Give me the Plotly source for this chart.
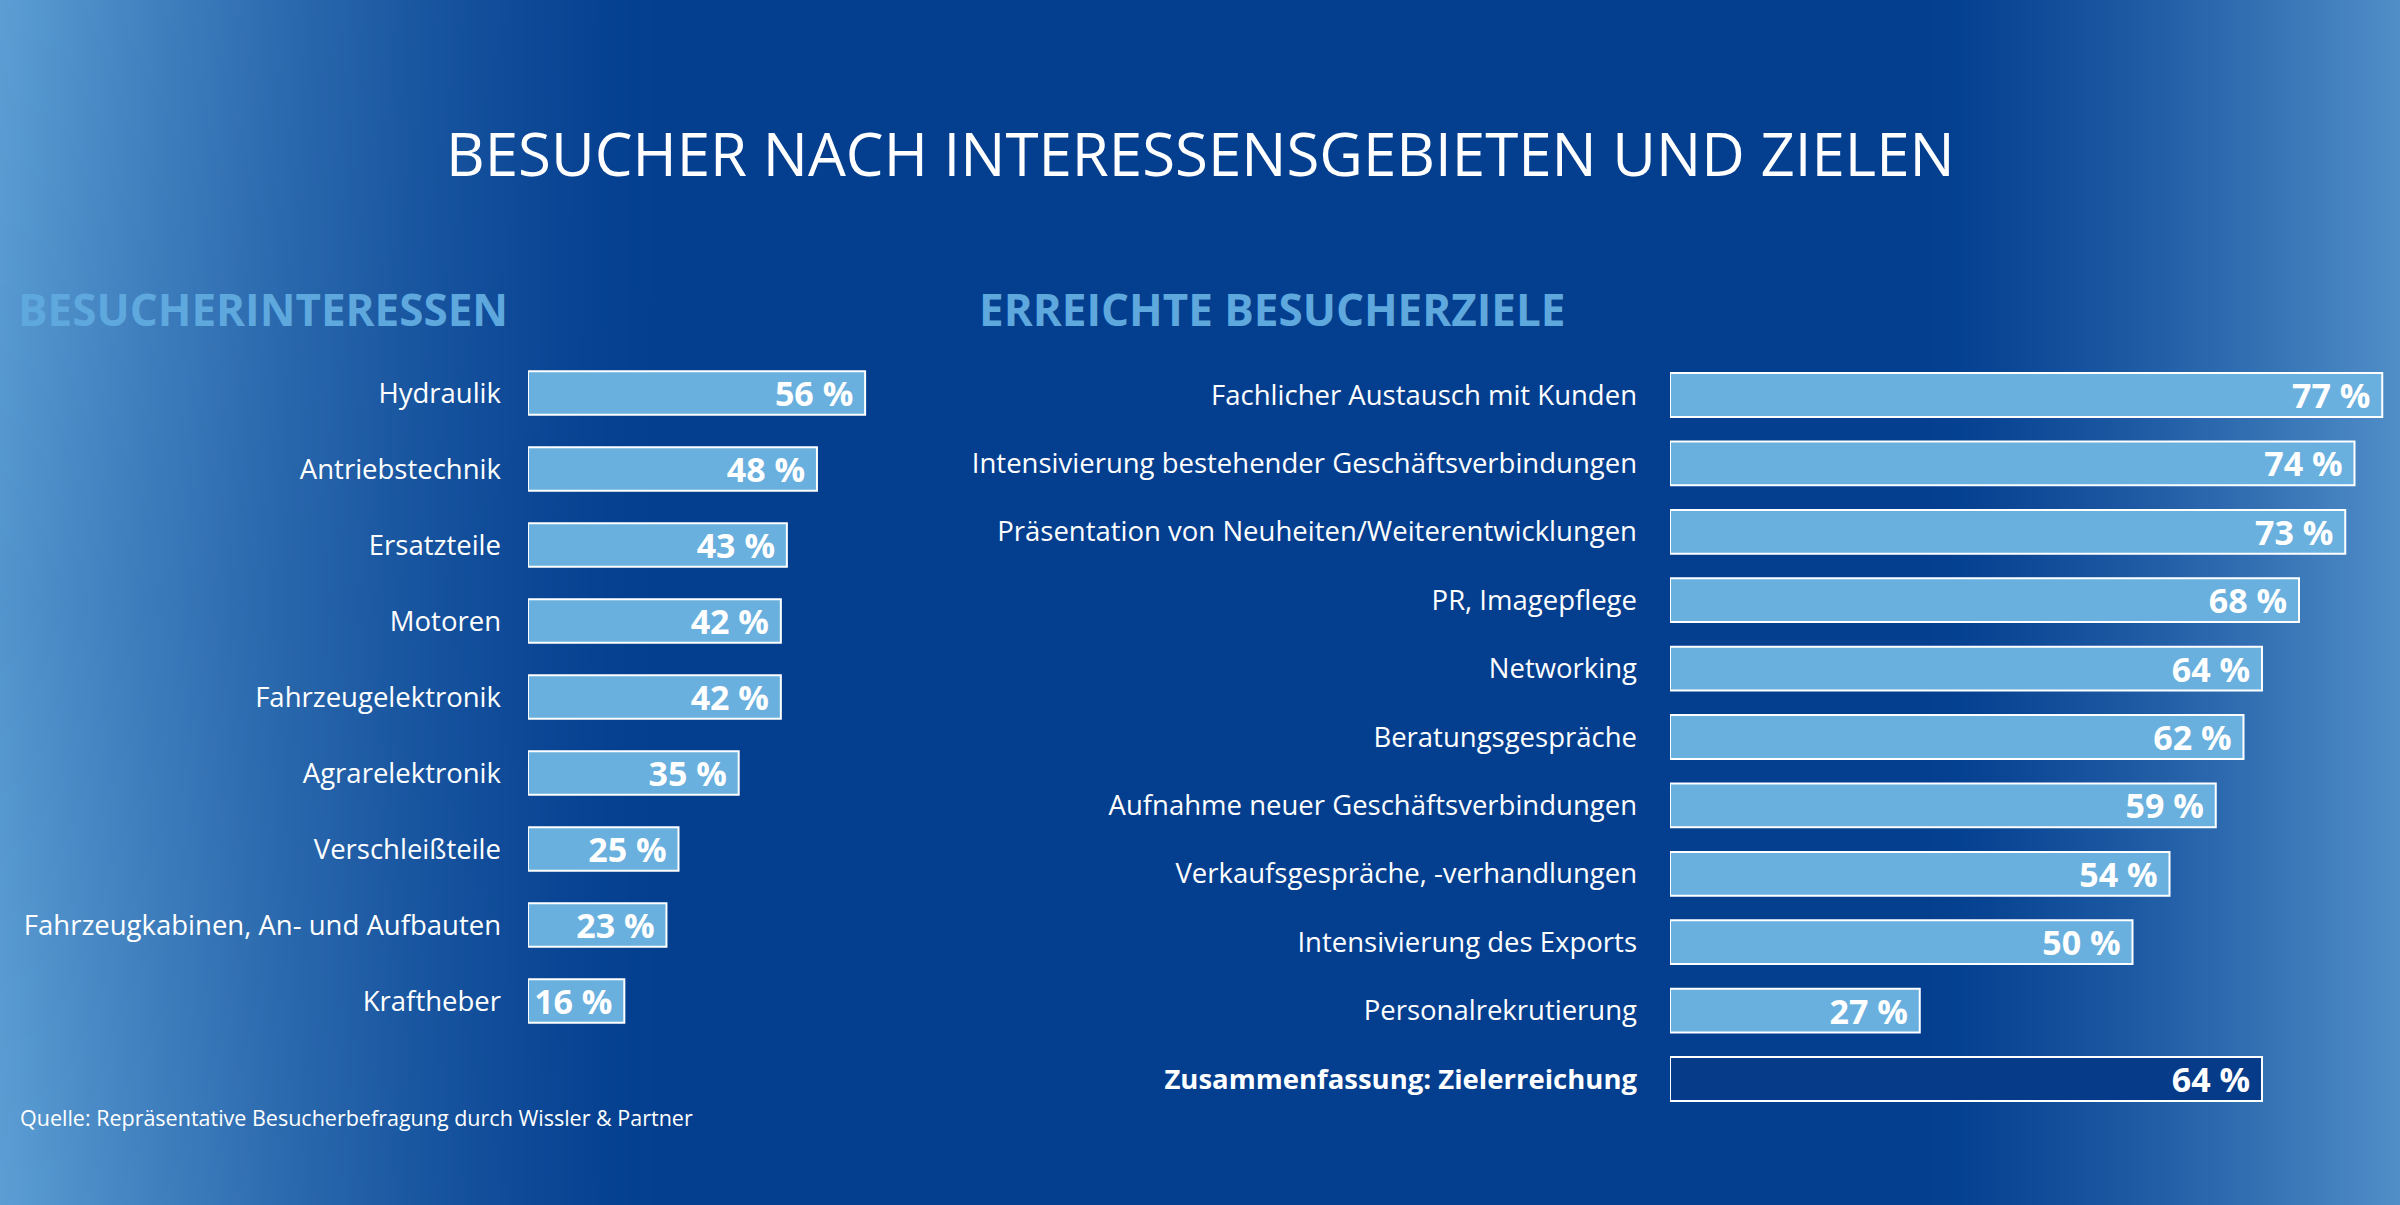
import base64
import struct
import zlib

import plotly.graph_objects as go

# ---------------- data ----------------
interest_categories = [
    "Hydraulik",
    "Antriebstechnik",
    "Ersatzteile",
    "Motoren",
    "Fahrzeugelektronik",
    "Agrarelektronik",
    "Verschleißteile",
    "Fahrzeugkabinen, An- und Aufbauten",
    "Kraftheber",
]
interest_values = [56, 48, 43, 42, 42, 35, 25, 23, 16]

goal_categories = [
    "Fachlicher Austausch mit Kunden",
    "Intensivierung bestehender Geschäftsverbindungen",
    "Präsentation von Neuheiten/Weiterentwicklungen",
    "PR, Imagepflege",
    "Networking",
    "Beratungsgespräche",
    "Aufnahme neuer Geschäftsverbindungen",
    "Verkaufsgespräche, -verhandlungen",
    "Intensivierung des Exports",
    "Personalrekrutierung",
    "Zusammenfassung: Zielerreichung",
]
goal_values = [77, 74, 73, 68, 64, 62, 59, 54, 50, 27, 64]

title_text = "BESUCHER NACH INTERESSENSGEBIETEN UND ZIELEN"
left_heading = "BESUCHERINTERESSEN"
right_heading = "ERREICHTE BESUCHERZIELE"
source_text = "Quelle: Repräsentative Besucherbefragung durch Wissler & Partner"

# ---------------- styles ----------------
W, H = 2400, 1205
FONT = "Open Sans"
BAR_FILL = "#69b0de"
SUMMARY_FILL = "#053b88"
HEAD_COLOR = "#5ea8de"


def make_background_png(w=480, h=241):
    navy = (3, 62, 143)
    left_light = (92, 158, 212)
    right_light = (80, 142, 200)

    def clamp(v):
        return max(0.0, min(1.0, v))

    rows = []
    for j in range(h):
        v = j / (h - 1)
        row = bytearray([0])
        for i in range(w):
            u = i / (w - 1)
            wl = clamp(1 - u / 0.28) ** 1.4
            wl = clamp(wl * (0.9 + 0.2 * abs(v - 0.5)))
            wr = clamp((u - 0.80) / 0.20) ** 1.3
            c = []
            for k in range(3):
                val = navy[k] + (left_light[k] - navy[k]) * wl + (right_light[k] - navy[k]) * wr
                c.append(int(max(0, min(255, round(val)))))
            row.extend(c)
        rows.append(bytes(row))
    raw = b"".join(rows)

    def chunk(tag, data):
        return struct.pack(">I", len(data)) + tag + data + struct.pack(">I", zlib.crc32(tag + data) & 0xFFFFFFFF)

    png = b"\x89PNG\r\n\x1a\n"
    png += chunk(b"IHDR", struct.pack(">IIBBBBB", w, h, 8, 2, 0, 0, 0))
    png += chunk(b"IDAT", zlib.compress(raw, 9))
    png += chunk(b"IEND", b"")
    return "data:image/png;base64," + base64.b64encode(png).decode()


fig = go.Figure()

fig.add_trace(
    go.Bar(
        x=interest_values,
        y=interest_categories,
        orientation="h",
        width=0.57,
        marker=dict(color=BAR_FILL, line=dict(color="white", width=2)),
        texttemplate="%{x} %\u00a0",
        textposition="inside",
        insidetextanchor="end",
        constraintext="none",
        textfont=dict(family=FONT, size=34, color="white", weight="bold"),
        xaxis="x",
        yaxis="y",
        hoverinfo="skip",
    )
)

goal_colors = [SUMMARY_FILL if i == len(goal_categories) - 1 else BAR_FILL for i in range(len(goal_categories))]
goal_ticktext = [
    f"<b>{c}</b>" if i == len(goal_categories) - 1 else c for i, c in enumerate(goal_categories)
]

fig.add_trace(
    go.Bar(
        x=goal_values,
        y=goal_categories,
        orientation="h",
        width=0.64,
        marker=dict(color=goal_colors, line=dict(color="white", width=2)),
        texttemplate="%{x} %\u00a0",
        textposition="inside",
        insidetextanchor="end",
        constraintext="none",
        textfont=dict(family=FONT, size=34, color="white", weight="bold"),
        xaxis="x2",
        yaxis="y2",
        hoverinfo="skip",
    )
)

axis_common = dict(showgrid=False, zeroline=False, showline=False, fixedrange=True)

fig.update_layout(
    width=W,
    height=H,
    margin=dict(l=0, r=0, t=0, b=0),
    paper_bgcolor="#043f90",
    plot_bgcolor="rgba(0,0,0,0)",
    showlegend=False,
    font=dict(family=FONT, color="white"),
    xaxis=dict(domain=[528 / W, 1130 / W], range=[0, 100], showticklabels=False, **axis_common),
    yaxis=dict(
        domain=[1 - 1039 / H, 1 - 355 / H],
        range=[len(interest_categories) - 0.5, -0.5],
        anchor="x",
        ticks="",
        ticklabelstandoff=26,
        tickfont=dict(family=FONT, size=27.5, color="white"),
        **axis_common,
    ),
    xaxis2=dict(domain=[1670 / W, (1670 + 721.5) / W], range=[0, 78], showticklabels=False, anchor="y2", **axis_common),
    yaxis2=dict(
        domain=[1 - 1113.2 / H, 1 - 360.8 / H],
        range=[len(goal_categories) - 0.5, -0.5],
        anchor="x2",
        ticks="",
        tickmode="array",
        tickvals=goal_categories,
        ticktext=goal_ticktext,
        ticklabelstandoff=32,
        tickfont=dict(family=FONT, size=27.5, color="white"),
        **axis_common,
    ),
    images=[
        dict(
            source=make_background_png(),
            xref="paper",
            yref="paper",
            x=0,
            y=1,
            sizex=1,
            sizey=1,
            xanchor="left",
            yanchor="top",
            sizing="stretch",
            layer="below",
        )
    ],
    annotations=[
        dict(
            text=title_text,
            x=0.5,
            y=1 - 153 / H,
            xref="paper",
            yref="paper",
            xanchor="center",
            yanchor="middle",
            showarrow=False,
            font=dict(family=FONT, size=60, color="white"),
        ),
        dict(
            text=f"<b>{left_heading}</b>",
            x=16 / W,
            y=1 - 309 / H,
            xref="paper",
            yref="paper",
            xanchor="left",
            yanchor="middle",
            showarrow=False,
            font=dict(family=FONT, size=44, color=HEAD_COLOR),
        ),
        dict(
            text=f"<b>{right_heading}</b>",
            x=977 / W,
            y=1 - 309 / H,
            xref="paper",
            yref="paper",
            xanchor="left",
            yanchor="middle",
            showarrow=False,
            font=dict(family=FONT, size=44, color=HEAD_COLOR),
        ),
        dict(
            text=source_text,
            x=18 / W,
            y=1 - 1117 / H,
            xref="paper",
            yref="paper",
            xanchor="left",
            yanchor="middle",
            showarrow=False,
            font=dict(family=FONT, size=21.5, color="white"),
        ),
    ],
)

fig.write_html(
    "out.html",
    config={"displayModeBar": False, "staticPlot": True},
    post_script="document.body.style.margin='0px';document.body.style.overflow='hidden';",
)
